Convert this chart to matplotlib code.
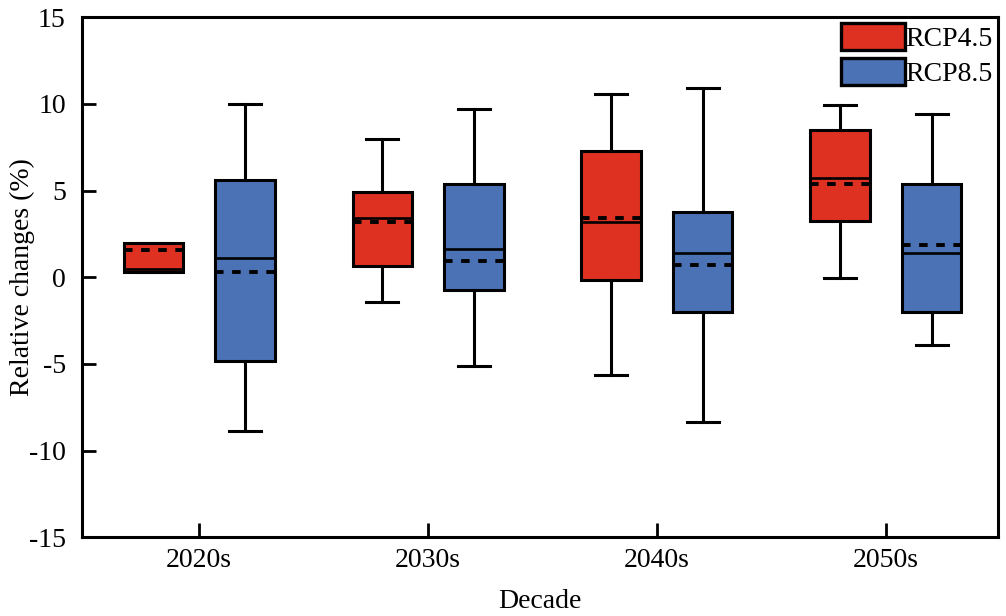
import matplotlib.pyplot as plt
from matplotlib.patches import Patch

plt.rcParams['font.family'] = ['Liberation Serif', 'DejaVu Serif']
plt.rcParams['axes.unicode_minus'] = False

decades = ["2020s", "2030s", "2040s", "2050s"]

# RCP4.5 statistics per decade
rcp45_whislo = [0.3, -1.45, -5.65, -0.05]
rcp45_q1 = [0.3, 0.63, -0.17, 3.23]
rcp45_med = [0.45, 3.44, 3.19, 5.71]
rcp45_mean = [1.56, 3.17, 3.39, 5.35]
rcp45_q3 = [2.0, 4.94, 7.31, 8.52]
rcp45_whishi = [2.0, 8.0, 10.6, 9.91]

# RCP8.5 statistics per decade
rcp85_whislo = [-8.85, -5.13, -8.38, -3.94]
rcp85_q1 = [-4.85, -0.71, -1.98, -1.98]
rcp85_med = [1.08, 1.65, 1.37, 1.42]
rcp85_mean = [0.29, 0.92, 0.69, 1.85]
rcp85_q3 = [5.6, 5.4, 3.79, 5.35]
rcp85_whishi = [10.02, 9.73, 10.89, 9.39]

red = "#DE3122"
blue = "#4A72B5"


def make_stats(lo, q1, med, mean, q3, hi):
    return [dict(whislo=a, q1=b, med=c, mean=d, q3=e, whishi=f, fliers=[])
            for a, b, c, d, e, f in zip(lo, q1, med, mean, q3, hi)]


fig, ax = plt.subplots(figsize=(10.06, 6.16), dpi=100)
fig.subplots_adjust(left=0.082, right=0.992, top=0.972, bottom=0.128)

lw = 2.2
common = dict(widths=0.26, capwidths=0.14, showmeans=True, meanline=True,
              patch_artist=True, showfliers=False,
              whiskerprops=dict(color="black", linewidth=lw),
              capprops=dict(color="black", linewidth=lw),
              medianprops=dict(color="black", linewidth=1.9),
              meanprops=dict(color="black", linewidth=2.8, linestyle=(0, (2.2, 2.2))))

pos = list(range(1, len(decades) + 1))
b1 = ax.bxp(make_stats(rcp45_whislo, rcp45_q1, rcp45_med, rcp45_mean, rcp45_q3, rcp45_whishi),
            positions=[p - 0.2 for p in pos],
            boxprops=dict(facecolor=red, edgecolor="black", linewidth=lw), **common)
b2 = ax.bxp(make_stats(rcp85_whislo, rcp85_q1, rcp85_med, rcp85_mean, rcp85_q3, rcp85_whishi),
            positions=[p + 0.2 for p in pos],
            boxprops=dict(facecolor=blue, edgecolor="black", linewidth=lw), **common)

ax.set_xlim(0.49, 4.49)
ax.set_ylim(-15, 15)
ax.set_xticks(pos)
ax.set_xticklabels(decades)
ax.set_yticks(range(-15, 16, 5))
ax.tick_params(direction="in", length=10, width=2, labelsize=20, pad=8)
ax.tick_params(axis="y", pad=12)
for s in ax.spines.values():
    s.set_linewidth(2.2)

ax.set_xlabel("Decade", fontsize=20)
ax.set_ylabel("Relative changes (%)", fontsize=20)
ax.xaxis.set_label_coords(0.5, -0.1)
ax.yaxis.set_label_coords(-0.052, 0.5)

handles = [Patch(facecolor=red, edgecolor="black", linewidth=2.4, label="RCP4.5"),
           Patch(facecolor=blue, edgecolor="black", linewidth=2.4, label="RCP8.5")]
ax.legend(handles=handles, loc="upper right", frameon=False, fontsize=20,
          handlelength=2.3, handleheight=1.15, handletextpad=0.0,
          borderaxespad=0.1, labelspacing=0.2, borderpad=0.1)

fig.savefig("out.png")
